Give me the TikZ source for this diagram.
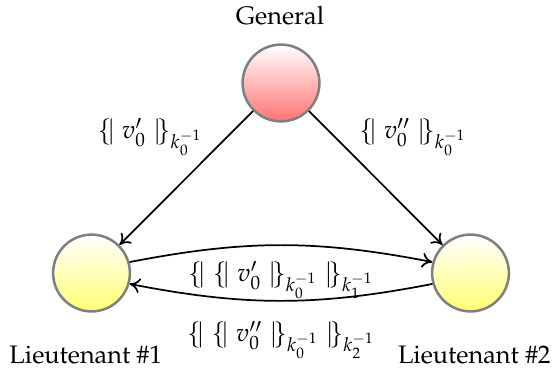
\documentclass[tikz,border=0pt]{standalone}
\usepackage[T1]{fontenc}
\usepackage{mathpazo}
\usetikzlibrary{arrows.meta}
\newcommand{\lbr}{\{\!|\;}
\newcommand{\rbr}{\;|\!\}}
\tikzset{
  every node/.style={font=\fontsize{11}{13}\selectfont},
  party/.style={circle, draw=black!50, line width=1.1pt, minimum size=33.4pt, inner sep=0pt},
  general/.style={party, top color=white, bottom color=red!55!white},
  lieut/.style={party, top color=white, bottom color=yellow!55!white},
  msg/.style={-{To[length=4.5pt,width=6.5pt]}, line width=0.75pt},
  lbl/.style={inner sep=1pt}
}
\begin{document}
\begin{tikzpicture}[x=0.4348pt,y=-0.4348pt]
\useasboundingbox (0,0) rectangle (552,372);
\node[general] (G) at (281,83) {};
\node[lieut] (L1) at (91.5,273) {};
\node[lieut] (L2) at (470.5,273) {};
\node (tG) at (280,16) {General};
\node[anchor=west, inner sep=0pt] (t1) at (9,355) {Lieutenant \#1};
\node[anchor=east, inner sep=0pt] (t2) at (551,355) {Lieutenant \#2};
\draw[msg] (G) -- (L1);
\draw[msg] (G) -- (L2);
\draw[msg] (L1.16) to[bend left=11] (L2.164);
\draw[msg] (L2.196) to[bend left=11] (L1.344);
\node[lbl] (m1) at (150,137) {$\lbr v_0' \rbr_{k_0^{-1}}$};
\node[lbl] (m2) at (413,137) {$\lbr v_0'' \rbr_{k_0^{-1}}$};
\node[lbl] (m3) at (281,280) {$\lbr \lbr v_0' \rbr_{k_0^{-1}} \rbr_{k_1^{-1}}$};
\node[lbl] (m4) at (281,340) {$\lbr \lbr v_0'' \rbr_{k_0^{-1}} \rbr_{k_2^{-1}}$};
\end{tikzpicture}
\end{document}
